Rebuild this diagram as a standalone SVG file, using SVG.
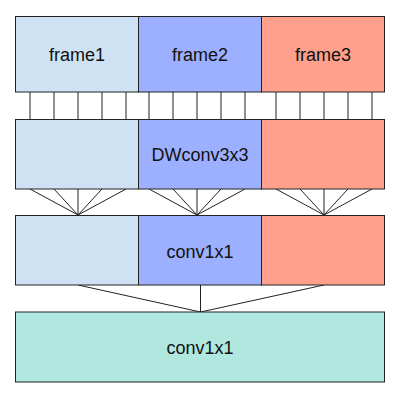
<svg xmlns="http://www.w3.org/2000/svg" width="409" height="408" viewBox="0 0 409 408">
<style>
.b{stroke:#222;stroke-width:1}
.c1{fill:#cfe2f3}.c2{fill:#9cb0ff}.c3{fill:#ffa08c}.c4{fill:#b0e8e0}
text{font-family:"Liberation Sans",Arial,sans-serif;font-size:18px;fill:#111;text-anchor:middle}
#connectors line{stroke:#222;stroke-width:1}
</style>
<rect width="409" height="408" fill="#fff"/>
<g id="connectors">
<line x1="30" y1="92" x2="30" y2="119.5"/><line x1="54" y1="92" x2="54" y2="119.5"/><line x1="78" y1="92" x2="78" y2="119.5"/><line x1="102" y1="92" x2="102" y2="119.5"/><line x1="126" y1="92" x2="126" y2="119.5"/>
<line x1="149" y1="92" x2="149" y2="119.5"/><line x1="173" y1="92" x2="173" y2="119.5"/><line x1="197" y1="92" x2="197" y2="119.5"/><line x1="221" y1="92" x2="221" y2="119.5"/><line x1="245" y1="92" x2="245" y2="119.5"/>
<line x1="276" y1="92" x2="276" y2="119.5"/><line x1="300" y1="92" x2="300" y2="119.5"/><line x1="324" y1="92" x2="324" y2="119.5"/><line x1="348" y1="92" x2="348" y2="119.5"/><line x1="372" y1="92" x2="372" y2="119.5"/>
<line x1="30" y1="189" x2="78" y2="215"/><line x1="54" y1="189" x2="78" y2="215"/><line x1="78" y1="189" x2="78" y2="215"/><line x1="102" y1="189" x2="78" y2="215"/><line x1="126" y1="189" x2="78" y2="215"/>
<line x1="149" y1="189" x2="197" y2="215"/><line x1="173" y1="189" x2="197" y2="215"/><line x1="197" y1="189" x2="197" y2="215"/><line x1="221" y1="189" x2="197" y2="215"/><line x1="245" y1="189" x2="197" y2="215"/>
<line x1="276" y1="189" x2="324" y2="215"/><line x1="300" y1="189" x2="324" y2="215"/><line x1="324" y1="189" x2="324" y2="215"/><line x1="348" y1="189" x2="324" y2="215"/><line x1="372" y1="189" x2="324" y2="215"/>
<line x1="78" y1="285" x2="200.5" y2="312"/><line x1="200.5" y1="285" x2="200.5" y2="312"/><line x1="324" y1="285" x2="200.5" y2="312"/>
</g>
<g id="frame1"><rect class="b c1" x="15.5" y="16.5" width="123" height="75.5"/><text x="77" y="61">frame1</text></g>
<g id="frame2"><rect class="b c2" x="138.5" y="16.5" width="123" height="75.5"/><text x="200" y="61">frame2</text></g>
<g id="frame3"><rect class="b c3" x="261.5" y="16.5" width="123" height="75.5"/><text x="323" y="61">frame3</text></g>
<g id="dw1"><rect class="b c1" x="15.5" y="119.5" width="123" height="69.5"/></g>
<g id="dw2"><rect class="b c2" x="138.5" y="119.5" width="123" height="69.5"/><text x="200" y="161">DWconv3x3</text></g>
<g id="dw3"><rect class="b c3" x="261.5" y="119.5" width="123" height="69.5"/></g>
<g id="pw1"><rect class="b c1" x="15.5" y="215.5" width="123" height="69.5"/></g>
<g id="pw2"><rect class="b c2" x="138.5" y="215.5" width="123" height="69.5"/><text x="200" y="257.5">conv1x1</text></g>
<g id="pw3"><rect class="b c3" x="261.5" y="215.5" width="123" height="69.5"/></g>
<g id="out"><rect class="b c4" x="15.5" y="312" width="369" height="70"/><text x="200" y="353.5">conv1x1</text></g>
</svg>
